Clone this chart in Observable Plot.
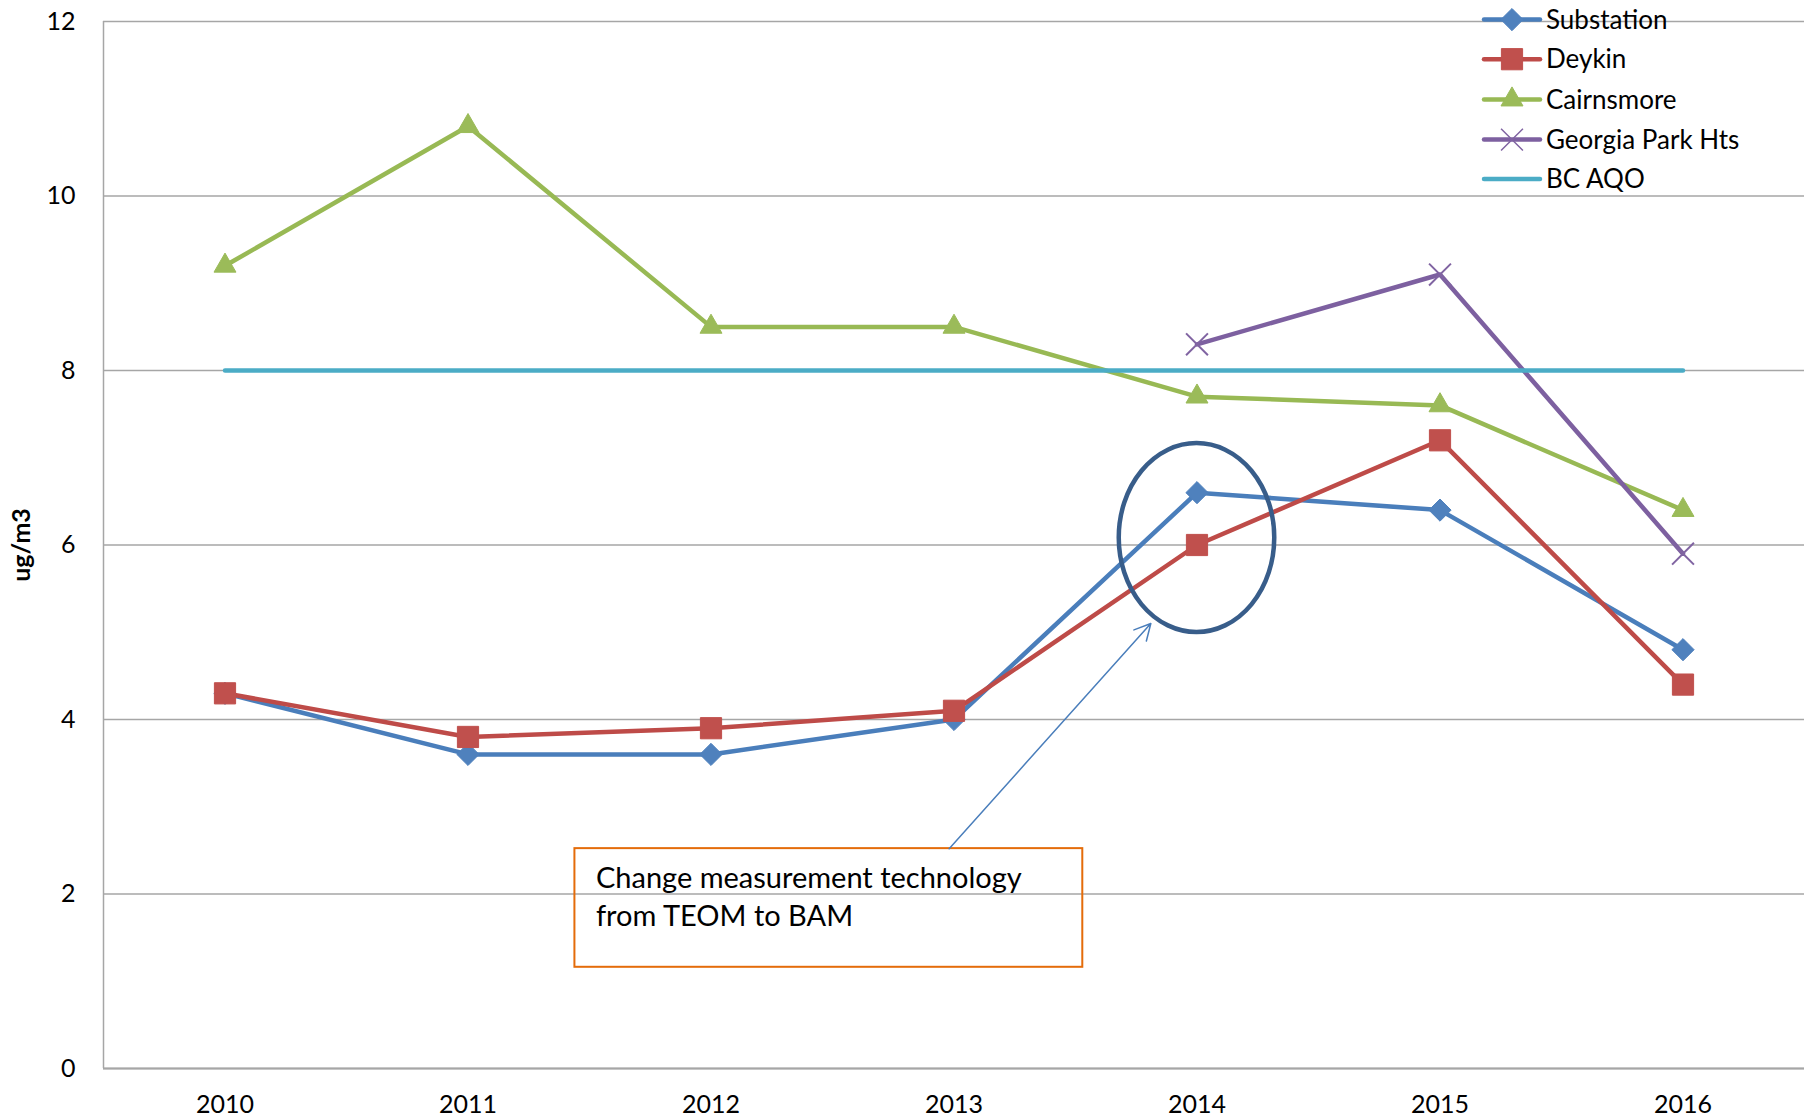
<!DOCTYPE html>
<html>
<head>
<meta charset="utf-8">
<script src="https://cdn.jsdelivr.net/npm/d3@7"></script>
<script src="https://cdn.jsdelivr.net/npm/@observablehq/plot@0.6"></script>
<style>
  html, body { margin: 0; padding: 0; background: #ffffff; }
  #chart { position: relative; width: 1810px; height: 1120px; }
  #legend { position: absolute; left: 0; top: 0; pointer-events: none; }
</style>
</head>
<body>
<div id="chart"></div>
<script>
// ---- data ----
const years = [2010, 2011, 2012, 2013, 2014, 2015, 2016];
const substation = [4.3, 3.6, 3.6, 4.0, 6.6, 6.4, 4.8];
const deykin = [4.3, 3.8, 3.9, 4.1, 6.0, 7.2, 4.4];
const cairnsmore = [9.2, 10.8, 8.5, 8.5, 7.7, 7.6, 6.4];
const georgiaParkHts = [null, null, null, null, 8.3, 9.1, 5.9];
const bcAqo = [8, 8, 8, 8, 8, 8, 8];
const seriesNames = ["Substation", "Deykin", "Cairnsmore", "Georgia Park Hts", "BC AQO"];
const yTicks = [0, 2, 4, 6, 8, 10, 12];
const yLabel = "ug/m3";
const noteLines = ["Change measurement technology", "from TEOM to BAM"];
// annotation anchors (data units)
const noteBox = {x1: 2011.44, x2: 2013.53, y1: 1.16, y2: 2.52};
const noteArrow = {x1: 2012.98, y1: 2.52, x2: 2013.81, y2: 5.10};
const noteEllipse = {x: 2014, y: 6.08, rx: 0.32, ry: 1.083};

// ---- styling ----
const styles = [
  {line: "#4A7EBB", marker: "#4F81BD", symbol: "diamond2", r: 10},
  {line: "#BE4B48", marker: "#C0504D", symbol: "square2", r: 13.5},
  {line: "#98B954", marker: "#9BBB59", symbol: "triangle2", r: 10.5},
  {line: "#7D60A0", marker: "#8064A2", symbol: "times", r: 10},
  {line: "#4BACC6", marker: "#4BACC6", symbol: null, r: 0}
];
const valuesList = [substation, deykin, cairnsmore, georgiaParkHts, bcAqo];
const series = seriesNames.map((name, k) => ({name, values: valuesList[k], ...styles[k]}));

const rows = series.flatMap(s =>
  years.map((year, i) => ({series: s.name, year, value: s.values[i]}))
       .filter(d => d.value != null));

const W = 1810, H = 1120;
const grid = "#a6a6a6";
const font = "Lato, 'Open Sans', sans-serif";
const lineW = 4.5;

const seriesMarks = series.flatMap(s => {
  const data = rows.filter(d => d.series === s.name);
  const m = [Plot.line(data, {x: "year", y: "value", stroke: s.line, strokeWidth: lineW, strokeLinejoin: "round", strokeLinecap: "round"})];
  if (s.symbol) {
    const stroked = s.symbol === "times";
    m.push(Plot.dot(data, {
      x: "year", y: "value", symbol: () => s.symbol, r: s.r,
      fill: stroked ? "none" : s.marker,
      stroke: s.marker, strokeWidth: stroked ? 2 : 1
    }));
  }
  return m;
});

function ellipseMark(index, scales) {
  const cx = scales.x(noteEllipse.x), cy = scales.y(noteEllipse.y);
  const rx = Math.abs(scales.x(noteEllipse.x + noteEllipse.rx) - cx);
  const ry = Math.abs(scales.y(noteEllipse.y + noteEllipse.ry) - cy);
  const g = d3.create("svg:g");
  g.append("ellipse").attr("cx", cx).attr("cy", cy).attr("rx", rx).attr("ry", ry)
    .attr("fill", "none").attr("stroke", "#385D8A").attr("stroke-width", 4.5);
  return g.node();
}

const chart = Plot.plot({
  width: W, height: H,
  marginLeft: 103, marginRight: 6, marginTop: 21, marginBottom: 52,
  style: {fontFamily: font, fontSize: "25px", color: "#000", background: "#fff", overflow: "visible"},
  x: {type: "linear", domain: [2009.5, 2016.5]},
  y: {domain: [0, 12]},
  marks: [
    Plot.gridY(yTicks, {stroke: grid, strokeOpacity: 1, strokeWidth: 1.5}),
    Plot.ruleX([2009.5], {stroke: grid, strokeWidth: 1.5}),
    Plot.ruleY([0], {stroke: grid, strokeWidth: 2}),
    Plot.axisX(years, {tickSize: 0, tickPadding: 27, tickFormat: d => String(d), label: null, fontSize: 25}),
    Plot.axisY(yTicks, {tickSize: 0, tickPadding: 28, tickFormat: d => String(d), label: null, fontSize: 25}),
    Plot.text([yLabel], {text: d => d, frameAnchor: "left", textAnchor: "middle", rotate: -90, dx: -82, fontWeight: "bold", fontSize: 25}),
    ...seriesMarks,
    Plot.rect([noteBox], {x1: "x1", x2: "x2", y1: "y1", y2: "y2", fill: "none", stroke: "#E46C0A", strokeWidth: 2}),
    Plot.text([noteLines.join("\n")], {text: d => d, x: noteBox.x1, y: noteBox.y2, dx: 21, dy: 12,
      textAnchor: "start", lineAnchor: "top", lineHeight: 1.31, fontSize: 29, fill: "#000"}),
    Plot.arrow([noteArrow], {x1: "x1", y1: "y1", x2: "x2", y2: "y2", stroke: "#4A7EBB", strokeWidth: 1.5, headLength: 18, headAngle: 55}),
    ellipseMark
  ]
});
document.getElementById("chart").appendChild(chart);

// ---- legend (overlay, top right) ----
const legendRows = [19.6, 59.2, 99.6, 139.6, 179];
const lg = d3.select("#chart").append("svg").attr("id", "legend").attr("width", W).attr("height", H)
  .style("font-family", font).style("font-size", "26px");
const symMap = {diamond2: d3.symbolDiamond2, square2: d3.symbolSquare2, triangle2: d3.symbolTriangle2, times: d3.symbolTimes};
series.forEach((s, k) => {
  const y = legendRows[k];
  lg.append("line").attr("x1", 1484).attr("x2", 1540).attr("y1", y).attr("y2", y)
    .attr("stroke", s.line).attr("stroke-width", lineW).attr("stroke-linecap", "round");
  if (s.symbol) {
    const stroked = s.symbol === "times";
    lg.append("path").attr("transform", `translate(1512,${y})`)
      .attr("d", d3.symbol(symMap[s.symbol], s.r * s.r * Math.PI)())
      .attr("fill", stroked ? "none" : s.marker).attr("stroke", s.marker)
      .attr("stroke-width", stroked ? 1.5 : 1);
  }
  lg.append("text").attr("x", 1546).attr("y", y).attr("dy", "0.35em").text(s.name);
});
</script>
</body>
</html>
